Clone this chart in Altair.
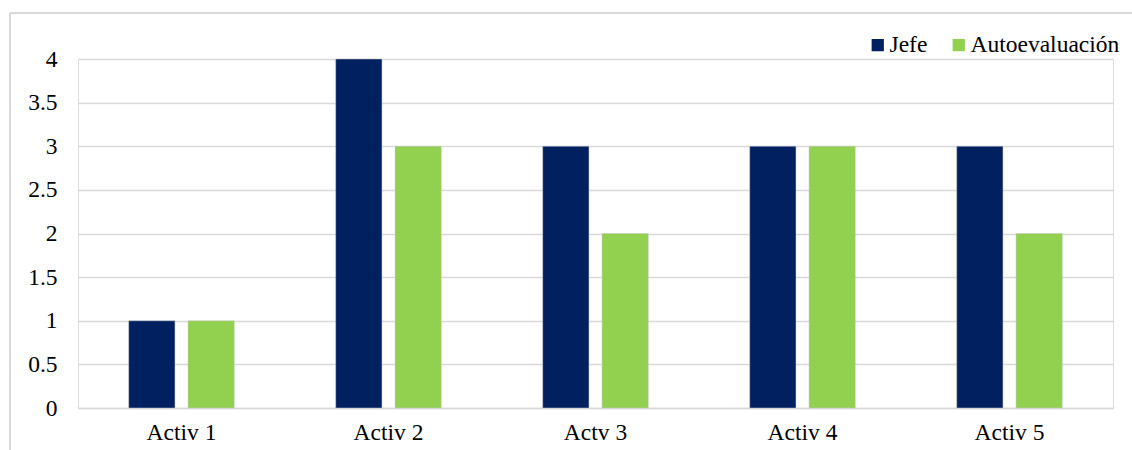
import altair as alt
import pandas as pd

categories = ["Activ 1", "Activ 2", "Actv 3", "Activ 4", "Activ 5"]
series = ["Jefe", "Autoevaluación"]
jefe = [1, 4, 3, 3, 3]
auto = [1, 3, 2, 3, 2]
colors = ["#002060", "#92D050"]

rows = []
for c, j, a in zip(categories, jefe, auto):
    rows.append({"cat": c, "serie": "Jefe", "valor": j})
    rows.append({"cat": c, "serie": "Autoevaluación", "valor": a})
df = pd.DataFrame(rows)

FONT = "'Times New Roman', 'Liberation Serif', serif"
FS = 23.5

bars = alt.Chart(df).mark_bar(stroke="#c8c8c8", strokeWidth=0.5).encode(
    x=alt.X("cat:N", sort=categories, title=None,
            scale=alt.Scale(paddingInner=0.49, paddingOuter=0.245),
            axis=alt.Axis(labelAngle=0, ticks=False, labelPadding=12, domainColor="#d9d9d9",
                          domainWidth=1.5, labelFontSize=FS, labelFont=FONT, labelColor="#000")),
    xOffset=alt.XOffset("serie:N", sort=series, scale=alt.Scale(paddingInner=0.22)),
    y=alt.Y("valor:Q", title=None,
            scale=alt.Scale(domain=[0, 4], nice=False),
            axis=alt.Axis(values=[0, 0.5, 1, 1.5, 2, 2.5, 3, 3.5, 4], format="~g", ticks=False,
                          domain=False, labelPadding=21, gridColor="#d9d9d9", gridWidth=1.5,
                          labelFontSize=FS, labelFont=FONT, labelColor="#000")),
    color=alt.Color("serie:N", sort=series, scale=alt.Scale(domain=series, range=colors),
                    legend=alt.Legend(title=None, orient="none", legendX=788, legendY=-26,
                                      direction="horizontal", symbolType="square", symbolSize=150,
                                      symbolStrokeWidth=0, labelFont=FONT, labelFontSize=FS,
                                      labelColor="#000", columnPadding=19, labelOffset=0)),
)

frame_top = alt.Chart(df).mark_rule(color="#d9d9d9", strokeWidth=1.5, clip=False).encode(
    x=alt.value(-68), x2=alt.value(1060), y=alt.value(-46))
frame_left = alt.Chart(df).mark_rule(color="#d9d9d9", strokeWidth=1.5, clip=False).encode(
    x=alt.value(-68), y=alt.value(-46), y2=alt.value(400))

chart = alt.layer(frame_top, frame_left, bars).properties(
    width=1035, height=349,
    padding={"left": 78, "top": 59, "right": 19, "bottom": 42},
    autosize=alt.AutoSizeParams(type="none"),
).configure_view(stroke=None).configure(background="white", font=FONT)

chart.save("out.html", embed_options={"renderer": "svg", "actions": False})
